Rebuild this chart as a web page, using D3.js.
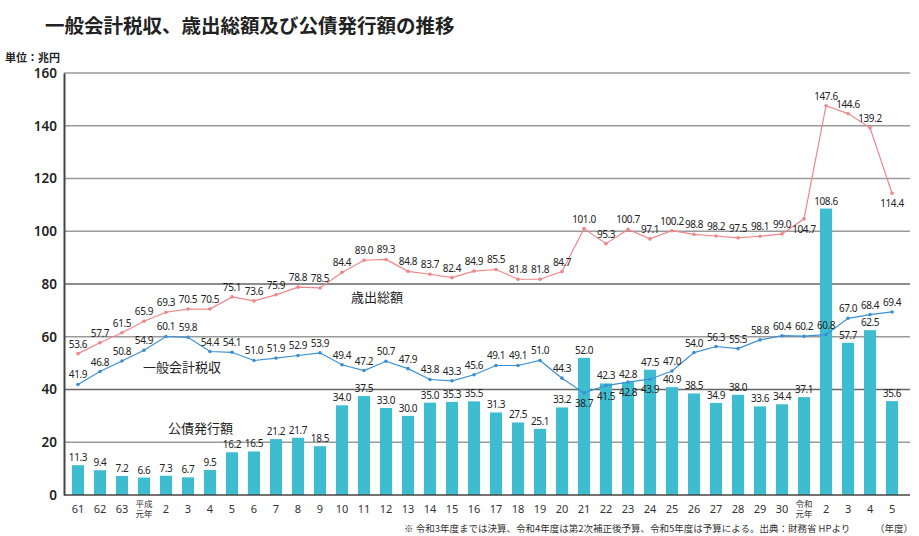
<!DOCTYPE html>
<html>
<head>
<meta charset="utf-8">
<script src="https://cdn.jsdelivr.net/npm/d3@7"></script>
<style>
  body { margin: 0; background: #fff; }
  svg { display: block; font-family: "Noto Sans CJK JP", "Noto Sans", sans-serif; }
</style>
</head>
<body>
<div id="chart"></div>
<script>
// Fiscal years: Showa 61 to Reiwa 5
const years = ["61", "62", "63", "平成|元年", "2", "3", "4", "5", "6", "7", "8", "9", "10",
  "11", "12", "13", "14", "15", "16", "17", "18", "19", "20", "21", "22", "23", "24", "25",
  "26", "27", "28", "29", "30", "令和|元年", "2", "3", "4", "5"];

// 歳出総額 (trillion yen)
const spending = [53.6, 57.7, 61.5, 65.9, 69.3, 70.5, 70.5, 75.1, 73.6, 75.9, 78.8, 78.5, 84.4,
  89.0, 89.3, 84.8, 83.7, 82.4, 84.9, 85.5, 81.8, 81.8, 84.7, 101.0, 95.3, 100.7, 97.1, 100.2,
  98.8, 98.2, 97.5, 98.1, 99.0, 104.7, 147.6, 144.6, 139.2, 114.4];

// 一般会計税収
const taxRevenue = [41.9, 46.8, 50.8, 54.9, 60.1, 59.8, 54.4, 54.1, 51.0, 51.9, 52.9, 53.9, 49.4,
  47.2, 50.7, 47.9, 43.8, 43.3, 45.6, 49.1, 49.1, 51.0, 44.3, 38.7, 41.5, 42.8, 43.9, 47.0,
  54.0, 56.3, 55.5, 58.8, 60.4, 60.2, 60.8, 67.0, 68.4, 69.4];

// 公債発行額
const bonds = [11.3, 9.4, 7.2, 6.6, 7.3, 6.7, 9.5, 16.2, 16.5, 21.2, 21.7, 18.5, 34.0,
  37.5, 33.0, 30.0, 35.0, 35.3, 35.5, 31.3, 27.5, 25.1, 33.2, 52.0, 42.3, 42.8, 47.5, 40.9,
  38.5, 34.9, 38.0, 33.6, 34.4, 37.1, 108.6, 57.7, 62.5, 35.6];

const yTicks = [0, 20, 40, 60, 80, 100, 120, 140, 160];

// labels drawn under the point instead of above
const spendingBelow = [33, 37];
const taxBelow = [23, 24, 25, 26];

const width = 919, height = 536;
const margin = { top: 73, right: 13, bottom: 41, left: 64 };

const svg = d3.select("#chart").append("svg")
  .attr("width", width)
  .attr("height", height);

const x = d3.scaleBand()
  .domain(d3.range(years.length))
  .range([margin.left, 906])
  .paddingInner(0.45)
  .paddingOuter(0.36);

const y = d3.scaleLinear()
  .domain([0, 160])
  .range([height - margin.bottom, margin.top]);

const cx = i => x(i) + x.bandwidth() / 2;

// Title
svg.append("text")
  .attr("x", 45).attr("y", 33)
  .attr("font-size", 19.5).attr("font-weight", 700).attr("fill", "#222")
  .text("一般会計税収、歳出総額及び公債発行額の推移");

svg.append("text")
  .attr("x", 5).attr("y", 62)
  .attr("font-size", 11).attr("font-weight", 700).attr("fill", "#222")
  .text("単位：兆円");

// Gridlines
svg.append("g")
  .selectAll("line")
  .data(yTicks.filter(d => d > 0))
  .join("line")
  .attr("x1", margin.left).attr("x2", 910)
  .attr("y1", d => y(d)).attr("y2", d => y(d))
  .attr("stroke", d => d % 40 === 0 && d <= 80 ? "#666" : "#9a9a9a")
  .attr("stroke-width", 1.3);

// Y axis
const yAxis = svg.append("g")
  .attr("transform", `translate(${margin.left},0)`)
  .call(d3.axisLeft(y).tickValues(yTicks).tickSize(0).tickPadding(7));
yAxis.select(".domain").attr("stroke", "#444").attr("stroke-width", 2);
yAxis.selectAll("text")
  .attr("font-family", "'Noto Sans', sans-serif")
  .attr("font-size", 13.5).attr("font-weight", 600).attr("fill", "#222");

// Bars
svg.append("g")
  .selectAll("rect")
  .data(bonds)
  .join("rect")
  .attr("x", (d, i) => x(i))
  .attr("y", d => y(d))
  .attr("width", x.bandwidth())
  .attr("height", d => y(0) - y(d))
  .attr("fill", "#3fbdd0");

// Baseline
svg.append("line")
  .attr("x1", margin.left).attr("x2", 910)
  .attr("y1", y(0)).attr("y2", y(0))
  .attr("stroke", "#444").attr("stroke-width", 1.5);

// X axis labels
const xl = svg.append("g")
  .selectAll("text")
  .data(years)
  .join("text")
  .attr("x", (d, i) => cx(i))
  .attr("y", 513)
  .attr("text-anchor", "middle")
  .attr("font-family", "'Noto Sans', 'Noto Sans CJK JP', sans-serif")
  .attr("font-size", 11).attr("fill", "#333");
xl.each(function(d) {
  const t = d3.select(this);
  const parts = d.split("|");
  if (parts.length === 1) {
    t.text(d);
  } else {
    t.attr("font-size", 8.5).attr("y", 507);
    t.append("tspan").attr("x", t.attr("x")).text(parts[0]);
    t.append("tspan").attr("x", t.attr("x")).attr("dy", 10).text(parts[1]);
  }
});

// Lines
const line = d3.line().x((d, i) => cx(i)).y(d => y(d));

function drawSeries(values, color, below) {
  svg.append("path")
    .datum(values)
    .attr("d", line)
    .attr("fill", "none")
    .attr("stroke", color)
    .attr("stroke-width", 1.2);
  svg.append("g")
    .selectAll("circle")
    .data(values)
    .join("circle")
    .attr("cx", (d, i) => cx(i))
    .attr("cy", d => y(d))
    .attr("r", 1.8)
    .attr("fill", color);
  svg.append("g")
    .selectAll("text")
    .data(values)
    .join("text")
    .attr("x", (d, i) => cx(i))
    .attr("y", (d, i) => below.includes(i) ? y(d) + 14 : y(d) - 6)
    .attr("text-anchor", "middle")
    .attr("font-family", "'Noto Sans', sans-serif")
    .attr("font-size", 10).attr("letter-spacing", -0.4).attr("fill", "#222")
    .text(d => d.toFixed(1));
}

// Bar labels
svg.append("g")
  .selectAll("text")
  .data(bonds)
  .join("text")
  .attr("x", (d, i) => cx(i))
  .attr("y", d => y(d) - 4)
  .attr("text-anchor", "middle")
  .attr("font-family", "'Noto Sans', sans-serif")
  .attr("font-size", 10).attr("letter-spacing", -0.4).attr("fill", "#222")
  .text(d => d.toFixed(1));

drawSeries(spending, "#f0868a", spendingBelow);
drawSeries(taxRevenue, "#3b90d4", taxBelow);

// Series names
const names = [
  { text: "歳出総額", x: 351, y: 302 },
  { text: "一般会計税収", x: 143, y: 372 },
  { text: "公債発行額", x: 168, y: 433 }
];
svg.append("g")
  .selectAll("text")
  .data(names)
  .join("text")
  .attr("x", d => d.x).attr("y", d => d.y)
  .attr("font-size", 13).attr("fill", "#222")
  .text(d => d.text);

// Footnote
svg.append("text")
  .attr("x", 404).attr("y", 532)
  .attr("font-size", 9.5).attr("fill", "#333")
  .text("※ 令和3年度までは決算、令和4年度は第2次補正後予算、令和5年度は予算による。出典：財務省 HPより");
svg.append("text")
  .attr("x", 913).attr("y", 532)
  .attr("text-anchor", "end")
  .attr("font-size", 9.5).attr("fill", "#333")
  .text("（年度）");
</script>
</body>
</html>
